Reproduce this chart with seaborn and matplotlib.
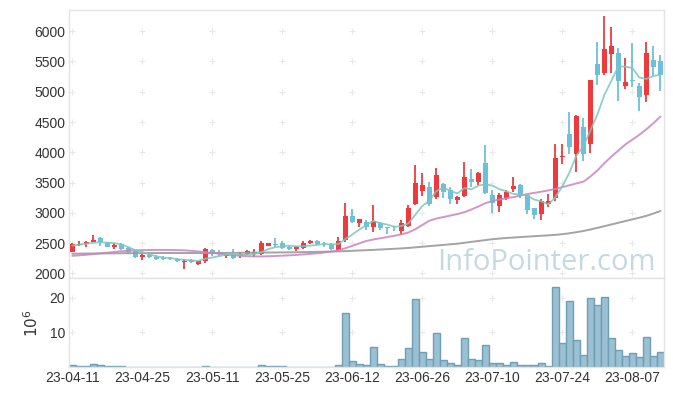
import numpy as np
import pandas as pd
import seaborn as sns
import matplotlib.pyplot as plt

# Daily OHLC (KRW), 23-04-11 .. 23-08-11
opens = [2360, 2470, 2480, 2525, 2578, 2510, 2440, 2478, 2412, 2368,
         2270, 2300, 2264, 2260, 2262, 2236, 2183, 2214, 2150, 2203,
         2385, 2345, 2290, 2313, 2282, 2315, 2320, 2315, 2460, 2490,
         2495, 2440, 2405, 2415, 2495, 2530, 2505, 2490, 2390, 2555,
         2945, 2840, 2855, 2760, 2835, 2758, 2720, 2705, 2780, 3145,
         3365, 3420, 3265, 3475, 3375, 3215, 3280, 3555, 3515, 3815,
         3295, 3115, 3250, 3395, 3460, 3295, 3075, 2980, 3150, 3240,
         3930, 4300, 3965, 4420, 4130, 5460, 5315, 5620, 5635, 5100,
         5190, 5095, 4950, 5525, 5500]
highs = [2505, 2530, 2540, 2640, 2605, 2520, 2495, 2495, 2440, 2375,
         2313, 2335, 2302, 2290, 2275, 2262, 2236, 2230, 2210, 2423,
         2410, 2385, 2325, 2400, 2346, 2385, 2410, 2535, 2500, 2589,
         2534, 2450, 2456, 2540, 2556, 2545, 2520, 2500, 2605, 3155,
         3063, 2900, 2880, 3123, 2853, 2762, 2780, 2880, 3129, 3790,
         3652, 3514, 3735, 3498, 3420, 3270, 3845, 3718, 3680, 4120,
         3377, 3321, 3377, 3586, 3470, 3300, 3080, 3233, 3305, 4131,
         4131, 4660, 4610, 4561, 5200, 5828, 6258, 6076, 5718, 5553,
         5801, 5151, 5828, 5757, 5603]
lows = [2350, 2445, 2435, 2520, 2450, 2430, 2395, 2390, 2325, 2247,
        2215, 2247, 2220, 2225, 2225, 2192, 2070, 2175, 2140, 2164,
        2290, 2285, 2258, 2236, 2247, 2303, 2275, 2303, 2450, 2429,
        2401, 2385, 2368, 2395, 2480, 2470, 2430, 2390, 2368, 2525,
        2826, 2770, 2715, 2688, 2715, 2650, 2705, 2633, 2760, 3129,
        3277, 3112, 3222, 3239, 3140, 3140, 3266, 3432, 3459, 3310,
        3002, 3018, 3211, 3349, 3239, 2980, 2895, 2880, 3100, 3200,
        3800, 3972, 3670, 3862, 3985, 5112, 5278, 5316, 4853, 5040,
        5085, 4688, 4837, 5267, 5013]
closes = [2490, 2490, 2520, 2555, 2522, 2440, 2465, 2396, 2346, 2265,
          2300, 2265, 2232, 2240, 2232, 2205, 2212, 2183, 2205, 2400,
          2315, 2315, 2318, 2250, 2312, 2365, 2340, 2495, 2495, 2470,
          2425, 2405, 2440, 2495, 2530, 2480, 2480, 2400, 2530, 2945,
          2855, 2895, 2760, 2870, 2755, 2750, 2710, 2825, 3075, 3495,
          3460, 3145, 3625, 3350, 3225, 3260, 3585, 3515, 3665, 3320,
          3160, 3290, 3345, 3440, 3295, 3045, 2965, 3200, 3190, 3900,
          3945, 4085, 4600, 3975, 5195, 5280, 5705, 5755, 5170, 5160,
          5170, 4920, 5635, 5415, 5270]

# Volume in millions of shares
volume = [0.57, 0.3, 0.3, 0.86, 0.57, 0.3, 0.3, 0.3, 0.05, 0.05,
          0.05, 0.05, 0.05, 0.05, 0.05, 0.05, 0.05, 0.05, 0.05, 0.3,
          0.05, 0.05, 0.05, 0.05, 0.05, 0.05, 0.05, 0.57, 0.3, 0.3,
          0.3, 0.05, 0.05, 0.05, 0.05, 0.05, 0.05, 0.05, 0.57, 15.7,
          1.8, 0.86, 0.57, 5.7, 0.86, 0.3, 0.3, 2.3, 5.4, 19.7,
          4.3, 2.3, 9.7, 2.0, 1.1, 0.57, 8.3, 2.3, 2.0, 6.3,
          1.1, 1.1, 0.57, 1.4, 0.57, 0.57, 0.57, 1.1, 0.3, 23.1,
          7.1, 19.1, 7.7, 3.4, 20.0, 18.0, 20.3, 8.3, 4.9, 3.1,
          4.0, 2.9, 8.6, 3.1, 4.3]

# Moving averages as drawn on the chart
ma5 = [2460, 2475, 2490, 2505, 2515, 2505, 2500, 2476, 2434, 2382,
       2354, 2314, 2282, 2260, 2254, 2235, 2224, 2214, 2207, 2241,
       2263, 2284, 2311, 2320, 2302, 2312, 2317, 2352, 2401, 2433,
       2445, 2458, 2447, 2447, 2459, 2470, 2485, 2477, 2484, 2567,
       2642, 2725, 2797, 2865, 2827, 2806, 2769, 2782, 2823, 2971,
       3113, 3200, 3360, 3415, 3361, 3321, 3409, 3387, 3450, 3469,
       3449, 3390, 3356, 3311, 3306, 3283, 3218, 3189, 3139, 3260,
       3440, 3664, 3944, 4101, 4360, 4627, 4951, 5182, 5421, 5414,
       5392, 5235, 5211, 5260, 5282]
ma20 = [2290, 2298, 2307, 2318, 2330, 2342, 2354, 2365, 2374, 2380,
        2384, 2386, 2387, 2387, 2386, 2384, 2380, 2372, 2362, 2350,
        2338, 2325, 2312, 2300, 2290, 2284, 2280, 2280, 2283, 2287,
        2292, 2298, 2305, 2313, 2322, 2332, 2345, 2360, 2380, 2415,
        2455, 2495, 2535, 2560, 2580, 2600, 2620, 2645, 2675, 2730,
        2800, 2870, 2905, 2930, 2955, 2980, 3010, 3055, 3105, 3160,
        3195, 3220, 3240, 3260, 3285, 3310, 3330, 3350, 3370, 3395,
        3425, 3455, 3485, 3515, 3600, 3700, 3820, 3930, 4030, 4130,
        4210, 4290, 4380, 4480, 4590]
ma60 = [2325, 2326, 2327, 2328, 2329, 2330, 2331, 2332, 2333, 2334,
        2335, 2335, 2336, 2336, 2336, 2336, 2336, 2336, 2336, 2336,
        2336, 2337, 2338, 2339, 2340, 2341, 2342, 2343, 2344, 2345,
        2346, 2347, 2349, 2351, 2353, 2355, 2357, 2360, 2363, 2368,
        2373, 2378, 2383, 2388, 2394, 2400, 2406, 2412, 2420, 2430,
        2440, 2450, 2460, 2470, 2480, 2490, 2505, 2520, 2535, 2550,
        2565, 2575, 2584, 2592, 2600, 2607, 2614, 2621, 2628, 2636,
        2648, 2662, 2680, 2700, 2725, 2752, 2780, 2808, 2836, 2864,
        2892, 2920, 2950, 2988, 3030]

tick_labels = ["23-04-11", "23-04-25", "23-05-11", "23-05-25", "23-06-12",
               "23-06-26", "23-07-10", "23-07-24", "23-08-07"]
price_ticks = [2000, 2500, 3000, 3500, 4000, 4500, 5000, 5500, 6000]
volume_ticks = [10, 20]

RED = "#EE3A3C"
BLUE = "#6CC0DA"

df = pd.DataFrame({"open": opens, "high": highs, "low": lows, "close": closes,
                   "volume": volume, "ma5": ma5, "ma20": ma20, "ma60": ma60})
df["idx"] = np.arange(len(df))
tick_pos = df["idx"].values[::10]

sns.set_style("white")
plt.rcParams["font.family"] = ["Liberation Sans", "DejaVu Sans"]

fig = plt.figure(figsize=(6.73, 3.96), dpi=100)
ax = fig.add_axes([0.103, 0.297, 0.883, 0.678])
axv = fig.add_axes([0.103, 0.0725, 0.883, 0.2245], sharex=ax)

# light "+" grid marks at tick crossings
gx, gy = np.meshgrid(tick_pos, price_ticks)
ax.scatter(gx.ravel(), gy.ravel(), marker="+", s=14, color="#e8e8e8", linewidths=0.8, zorder=0)
gx, gy = np.meshgrid(tick_pos, volume_ticks)
axv.scatter(gx.ravel(), gy.ravel(), marker="+", s=14, color="#e8e8e8", linewidths=0.8, zorder=0)

# Candles
colors = np.where(df["close"] >= df["open"], RED, BLUE)
ax.vlines(df["idx"], df["low"], df["high"], colors=colors, linewidth=1.3, zorder=2)
body_lo = df[["open", "close"]].min(axis=1)
body_h = (df["close"] - df["open"]).abs().clip(lower=14)
ax.bar(df["idx"], body_h, bottom=body_lo, width=0.72, color=colors, linewidth=0, zorder=3)

# Moving averages
sns.lineplot(x="idx", y="ma60", data=df, ax=ax, color="#9a9a9a", linewidth=1.4, alpha=0.9, zorder=4)
sns.lineplot(x="idx", y="ma20", data=df, ax=ax, color="#C884C3", linewidth=1.4, alpha=0.85, zorder=4)
sns.lineplot(x="idx", y="ma5", data=df, ax=ax, color="#7CC7BC", linewidth=1.3, alpha=0.85, zorder=5)

ax.text(0.987, 0.031, "InfoPointer.com", transform=ax.transAxes, ha="right", va="baseline",
        fontsize=21, color="#C5D9E2", family=["Open Sans", "DejaVu Sans"], zorder=6)

# Volume
sns.barplot(x="idx", y="volume", data=df, ax=axv, native_scale=True, width=1.0,
            color="#9BC0D1", edgecolor="#6F9FB6", linewidth=1.0, saturation=1,
            errorbar=None, zorder=2)

for a in (ax, axv):
    for s in a.spines.values():
        s.set_color("#e3e3e3")
        s.set_linewidth(1.0)
    a.tick_params(length=0, labelsize=10, labelcolor="#333333", pad=3)
    a.set_xlabel("")

ax.set_xlim(-0.43, 84.45)
ax.set_ylim(1917, 6352)
ax.set_yticks(price_ticks)
ax.set_ylabel("")
ax.tick_params(labelbottom=False)

axv.set_ylim(0, 25.5)
axv.set_yticks(volume_ticks)
axv.set_xticks(tick_pos)
axv.set_xticklabels(tick_labels)
axv.set_ylabel(r"$10^6$", fontsize=11, color="#333333", labelpad=6)

fig.savefig("out.png", dpi=100)
